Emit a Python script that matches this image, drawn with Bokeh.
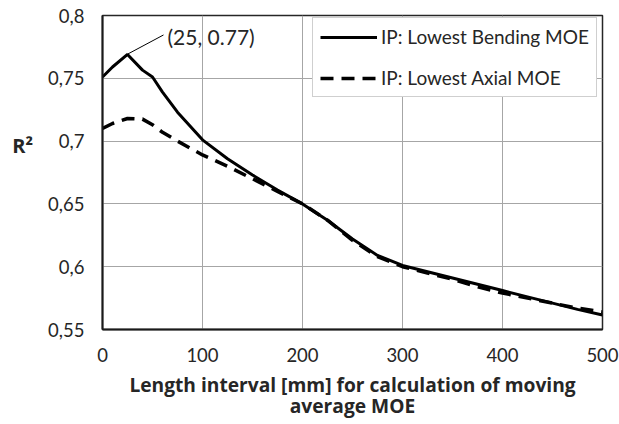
from bokeh.plotting import figure
from bokeh.models import Range1d, FixedTicker, Legend, LegendItem, Label, CustomJSTickFormatter
from bokeh.embed import file_html
from bokeh.resources import INLINE

# ---- data ----
interval_mm = [0, 10, 25, 40, 50, 60, 75, 100, 125, 150, 175, 200, 225, 250,
               275, 300, 325, 350, 375, 400, 425, 450, 475, 500]
r2_bending = [0.751, 0.759, 0.769, 0.7565, 0.751, 0.739, 0.723, 0.701, 0.686,
              0.673, 0.661, 0.650, 0.637, 0.622, 0.609, 0.601, 0.596, 0.591,
              0.586, 0.581, 0.576, 0.571, 0.566, 0.5615]
r2_axial = [0.710, 0.714, 0.718, 0.7175, 0.713, 0.707, 0.700, 0.689, 0.680,
            0.670, 0.660, 0.650, 0.637, 0.621, 0.608, 0.600, 0.595, 0.590,
            0.584, 0.579, 0.575, 0.571, 0.567, 0.564]
x_ticks = [0, 100, 200, 300, 400, 500]
y_ticks = [0.55, 0.6, 0.65, 0.7, 0.75, 0.8]
series_names = ["IP: Lowest Bending MOE", "IP: Lowest Axial MOE"]
x_title = "Length interval [mm] for calculation of moving\naverage MOE"
y_title = "R²"
peak_x, peak_y = 25, 0.77
peak_text = "(25, 0.77)"

FONT = "Lato"
BOLD_FONT = "Open Sans"
FS = "18.5px"
TXT = "#262626"

p = figure(width=619, height=424, output_backend="svg", toolbar_location=None,
           x_range=Range1d(0, 500), y_range=Range1d(0.55, 0.8),
           min_border_left=102, min_border_right=17, min_border_top=15, min_border_bottom=95)
p.background_fill_color = "white"
p.border_fill_color = "white"
p.outline_line_color = "#262626"
p.outline_line_width = 1.5

r1 = p.line(interval_mm, r2_bending, line_color="black", line_width=3)
r2 = p.line(interval_mm, r2_axial, line_color="black", line_width=3.5, line_dash="13 8")

# axes
p.xaxis.ticker = FixedTicker(ticks=x_ticks)
p.yaxis.ticker = FixedTicker(ticks=y_ticks)
p.yaxis.formatter = CustomJSTickFormatter(code="return tick.toFixed(2).replace(/0$/, '').replace('.', ',');")
for ax in (p.xaxis[0], p.yaxis[0]):
    ax.major_tick_line_color = None
    ax.minor_tick_line_color = None
    ax.major_tick_out = 0
    ax.major_tick_in = 0
    ax.minor_tick_out = 0
    ax.minor_tick_in = 0
    ax.axis_line_color = "#1a1a1a"
    ax.axis_line_width = 2
    ax.major_label_text_font = FONT
    ax.major_label_text_font_size = FS
    ax.major_label_text_color = TXT
    ax.axis_label_text_font = BOLD_FONT
    ax.axis_label_text_font_style = "bold"
    ax.axis_label_text_color = TXT
p.yaxis.major_label_standoff = 18
p.xaxis.major_label_standoff = 18

p.xaxis.axis_label = x_title
p.xaxis.axis_label_text_font_size = "19.2px"
p.xaxis.axis_label_text_line_height = 0.78
p.xaxis.axis_label_standoff = 6

# horizontal y title, lifted above the frame centre by padding lines
p.yaxis.axis_label = y_title + "\n\n"
p.yaxis.axis_label_orientation = "horizontal"
p.yaxis.axis_label_text_font_size = "20px"
p.yaxis.axis_label_text_line_height = 1.0
p.yaxis.axis_label_standoff = 12

p.xgrid.grid_line_color = "#a6a6a6"
p.ygrid.grid_line_color = "#a6a6a6"
p.xgrid.grid_line_width = 1
p.ygrid.grid_line_width = 1

# peak annotation
lbl_x, lbl_y = peak_x + 40, 0.7833
p.line([peak_x, lbl_x - 4], [peak_y - 0.0008, lbl_y + 0.0012], line_color="black", line_width=1)
p.add_layout(Label(x=lbl_x, y=lbl_y, text=peak_text, text_font=FONT, text_font_size="21px",
                   text_align="left", text_baseline="middle", text_color=TXT))

legend = Legend(items=[LegendItem(label=series_names[0], renderers=[r1]),
                       LegendItem(label=series_names[1], renderers=[r2])],
                location=(210, 232))
legend.label_text_font = FONT
legend.label_text_font_size = "19px"
legend.label_text_color = TXT
legend.glyph_width = 57
legend.glyph_height = 20
legend.label_height = 20
legend.label_standoff = 4
legend.spacing = 18
legend.padding = 7
legend.margin = 0
legend.border_line_color = "#a0a0a0"
legend.border_line_width = 1
legend.background_fill_alpha = 1
p.add_layout(legend, "center")

open("out.html", "w").write(file_html(p, INLINE))
